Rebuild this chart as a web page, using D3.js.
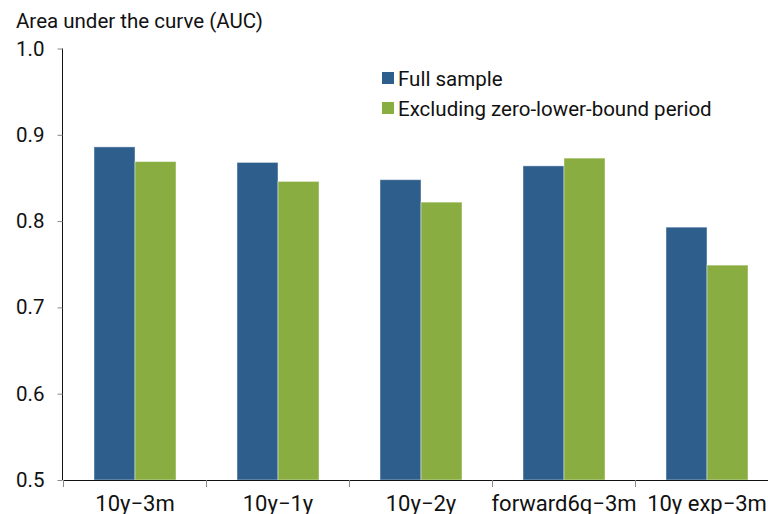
<!DOCTYPE html>
<html><head><meta charset="utf-8">
<script src="https://cdn.jsdelivr.net/npm/d3@7"></script>
<style>body{margin:0;background:#fff}svg{display:block}text{font-family:Roboto,"Noto Sans",sans-serif}</style>
</head><body><svg width="768" height="514"></svg>
<script>
const categories = ["10y\u22123m", "10y\u22121y", "10y\u22122y", "forward6q\u22123m", "10y exp\u22123m"];
const seriesNames = ["Full sample", "Excluding zero-lower-bound period"];
const fullSample = [0.886, 0.868, 0.848, 0.864, 0.793];
const excludingZLB = [0.869, 0.846, 0.822, 0.873, 0.749];
const yTicks = [0.5, 0.6, 0.7, 0.8, 0.9, 1.0];
const colors = ["#2e5e8c", "#8aad42"];

const svg = d3.select("svg");
const x0 = d3.scaleBand().domain(categories).range([63.5, 778.5]).padding(0);
const x1 = d3.scaleBand().domain(seriesNames).range([x0.bandwidth()/2 - 41, x0.bandwidth()/2 + 41]).padding(0);
const y = d3.scaleLinear().domain([0.5, 1.0]).range([480, 48.5]);

const series = [fullSample, excludingZLB];
categories.forEach((c, i) => {
  seriesNames.forEach((s, j) => {
    const v = series[j][i];
    svg.append("rect")
      .attr("x", x0(c) + x1(s))
      .attr("y", y(v))
      .attr("width", x1.bandwidth())
      .attr("height", y(0.5) - y(v))
      .attr("fill", colors[j])
      .attr("stroke", "rgba(255,255,255,0.45)")
      .attr("stroke-width", 1);
  });
});

const yAxis = svg.append("g").attr("transform", "translate(62.5,0)")
  .call(d3.axisLeft(y).tickValues(yTicks).tickFormat(d3.format(".1f")).tickSize(5).tickPadding(13));
yAxis.select(".domain").attr("d", `M0,${y(1.0)}V${y(0.5)}`).attr("stroke", "#111");
yAxis.selectAll(".tick line").attr("stroke", "#888");
yAxis.selectAll("text").attr("font-size", 20.5).attr("fill", "#111").attr("font-family", "Roboto");

const xAxis = svg.append("g").attr("transform", "translate(0,480)")
  .call(d3.axisBottom(x0).tickSize(0).tickPadding(0));
xAxis.select(".domain").attr("stroke", "#111");
xAxis.selectAll("text").attr("font-size", 22).attr("fill", "#111").attr("font-family", "Roboto")
  .attr("dy", null).attr("y", 31);
const bounds = categories.map(c => x0(c));
xAxis.selectAll(".sep").data(bounds).enter().append("line")
  .attr("x1", d => d).attr("x2", d => d).attr("y1", 0).attr("y2", 7).attr("stroke", "#888");

svg.append("text").attr("x", 16).attr("y", 28).attr("font-size", 20.5).attr("fill", "#111")
  .text("Area under the curve (AUC)");

const legend = svg.append("g");
seriesNames.forEach((s, j) => {
  legend.append("rect").attr("x", 382).attr("y", 72 + j*30).attr("width", 12).attr("height", 12).attr("fill", colors[j]);
  legend.append("text").attr("x", 398).attr("y", 85.5 + j*30).attr("font-size", 20.5).attr("fill", "#111").text(s);
});
</script></body></html>
